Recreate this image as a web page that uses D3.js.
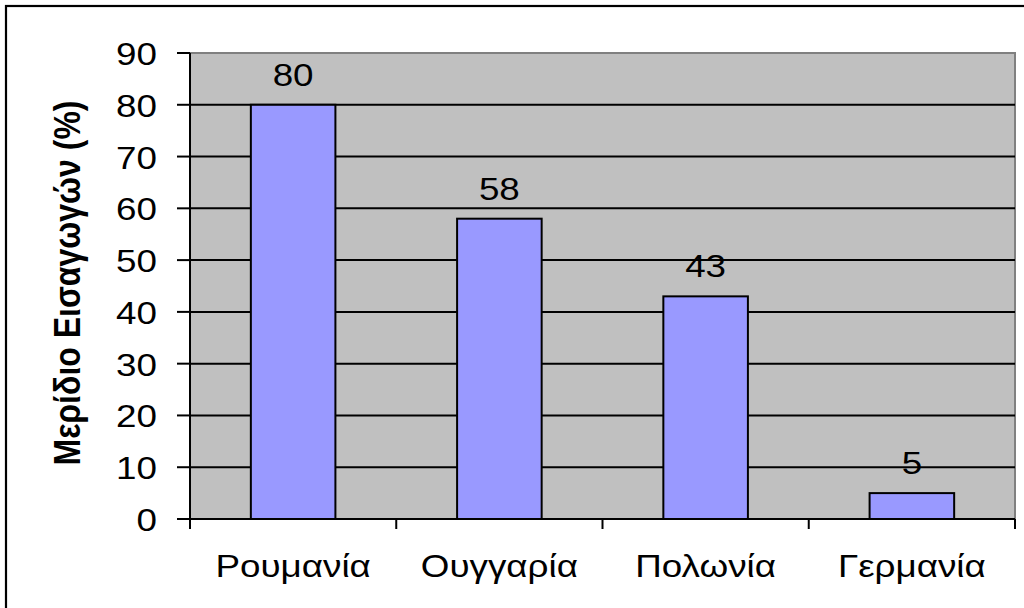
<!DOCTYPE html>
<html><head><meta charset="utf-8">
<script src="https://cdn.jsdelivr.net/npm/d3@7"></script>
<style>body{margin:0;background:#fff}svg{display:block}text{font-family:"Liberation Sans",Arial,sans-serif}</style>
</head><body><svg id="c" width="1024" height="608"></svg>
<script>
const categories = ["Ρουμανία","Ουγγαρία","Πολωνία","Γερμανία"];
const values = [80,58,43,5];
const yTicks = [0,10,20,30,40,50,60,70,80,90];
const yTitle = "Μερίδιο Εισαγωγών (%)";

const svg = d3.select("#c");
const L=190,R=1015,T=53,B=519;
const SX=1.15, FS=32;
svg.append("rect").attr("x",6).attr("y",6).attr("width",1040).attr("height",620)
  .attr("fill","none").attr("stroke","#000").attr("stroke-width",2.2);

const x = d3.scaleBand().domain(categories).range([L,R]);
const y = d3.scaleLinear().domain([0,90]).range([B,T]);

svg.append("rect").attr("x",L).attr("y",T).attr("width",R-L).attr("height",B-T)
  .attr("fill","#C0C0C0").attr("stroke","#808080").attr("stroke-width",2);

svg.append("g").selectAll("line").data(yTicks.filter(d=>d>0&&d<90)).join("line")
  .attr("x1",L).attr("x2",R).attr("y1",d=>y(d)).attr("y2",d=>y(d))
  .attr("stroke","#000").attr("stroke-width",2);

const bw = x.bandwidth()*0.41;
svg.append("g").selectAll("rect").data(values).join("rect")
  .attr("x",(d,i)=>x(categories[i])+x.bandwidth()/2-bw/2)
  .attr("width",bw)
  .attr("y",d=>y(d)).attr("height",d=>B-y(d))
  .attr("fill","#9999FF").attr("stroke","#000").attr("stroke-width",2);

// axes
svg.append("line").attr("x1",L).attr("x2",L).attr("y1",T).attr("y2",B).attr("stroke","#000").attr("stroke-width",2);
svg.append("line").attr("x1",L-13).attr("x2",R).attr("y1",B).attr("y2",B).attr("stroke","#000").attr("stroke-width",2);
svg.append("g").selectAll("line").data(yTicks).join("line")
  .attr("x1",L-13).attr("x2",L).attr("y1",d=>y(d)).attr("y2",d=>y(d)).attr("stroke","#000").attr("stroke-width",2);
const xb = categories.map(c=>x(c)).concat([R]);
svg.append("g").selectAll("line").data(xb).join("line")
  .attr("x1",d=>d).attr("x2",d=>d).attr("y1",B).attr("y2",B+10).attr("stroke","#000").attr("stroke-width",2);

function stext(g,xp,yp,txt,anchor,weight){
  return g.append("text").attr("transform",`translate(${xp},${yp}) scale(${SX},1)`)
    .attr("text-anchor",anchor).attr("font-size",FS).attr("font-weight",weight||"normal").attr("fill","#000").text(txt);
}
const gt = svg.append("g");
yTicks.forEach(t=>stext(gt,157,y(t)+12,String(t),"end"));
categories.forEach(c=>stext(gt,x(c)+x.bandwidth()/2,577,c,"middle"));
values.forEach((v,i)=>stext(gt,x(categories[i])+x.bandwidth()/2,y(v)-19,String(v),"middle"));

svg.append("text").attr("transform",`translate(80,283) scale(${SX},1) rotate(-90)`)
  .attr("text-anchor","middle").attr("font-size",FS).attr("font-weight","bold").text(yTitle);
</script></body></html>
